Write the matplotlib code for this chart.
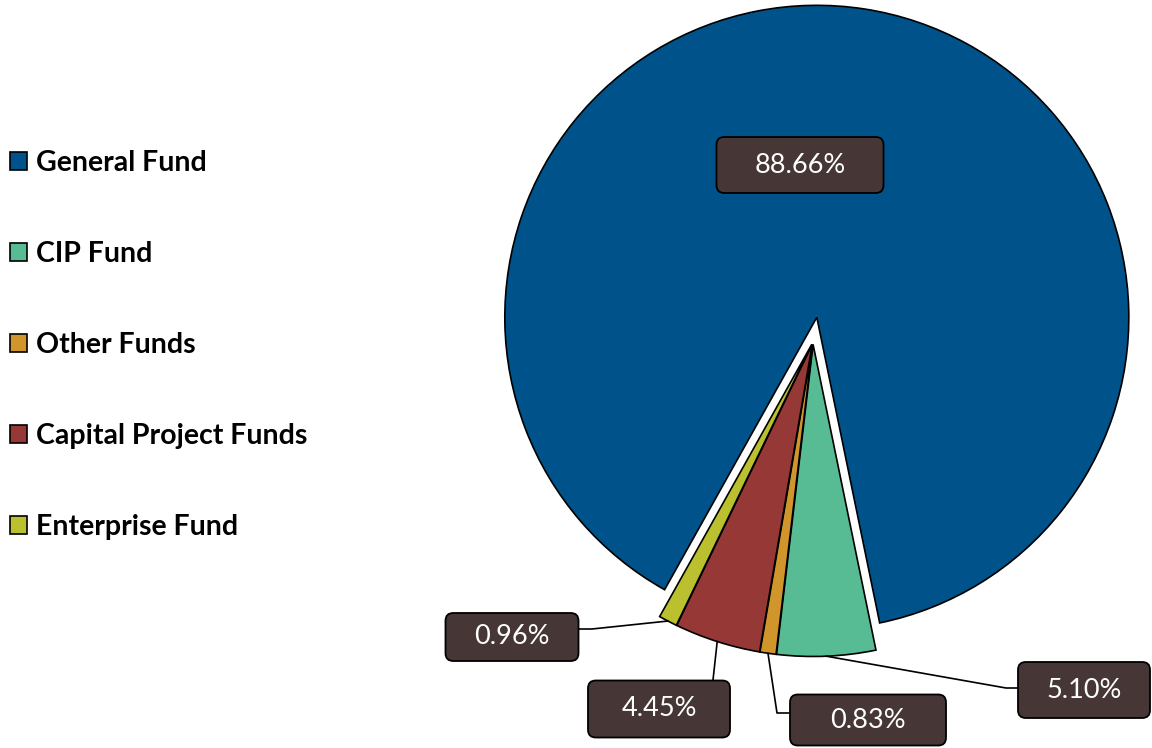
import matplotlib.pyplot as plt
from matplotlib.patches import Patch, FancyBboxPatch
import numpy as np

# Fund shares (percent)
funds = ["General Fund", "CIP Fund", "Other Funds", "Capital Project Funds", "Enterprise Fund"]
shares = [88.66, 5.10, 0.83, 4.45, 0.96]
colors = ["#00538a", "#57bb93", "#d0962c", "#963836", "#bbc12e"]
explode = [0.08, 0.008, 0.008, 0.008, 0.008]

W, H = 1152, 748
R_PX = 312.0          # pie radius in pixels
CX, CY = 813, 342     # pie centre in pixels (from top-left)


def px(x, y):
    """pixel position (top-left origin) -> data coords of the pie axes"""
    return (x - CX) / R_PX, (CY - y) / R_PX


fig = plt.figure(figsize=(W / 100, H / 100), dpi=100)
ax = fig.add_axes([0, 0, 1, 1])

wedges, _ = ax.pie(shares, colors=colors, explode=explode, startangle=240.8,
                   counterclock=False, radius=1,
                   wedgeprops=dict(edgecolor="black", linewidth=1.2))

x0, y0 = px(0, H)
x1, y1 = px(W, 0)
ax.set_xlim(x0, x1)
ax.set_ylim(y0, y1)
ax.set_aspect("auto")
ax.axis("off")

# label boxes: centre (px), size (px), connector elbow + box attach point (px)
box_centre = [(800, 165), (1084, 690), (868, 720), (659, 709), (512, 637)]
box_size = [(167, 56), (132, 56), (156, 51), (142, 57), (133, 48)]
elbows = [None, [(1006, 688), (1018, 688)], [(777, 713), (790, 713)],
          [(713, 680)], [(592, 629), (579, 629)]]

box_color = "#463636"
for i, (w, share) in enumerate(zip(wedges, shares)):
    cx, cy = box_centre[i]
    bw, bh = box_size[i]
    bx, by = px(cx - bw / 2, cy + bh / 2)
    patch = FancyBboxPatch((bx, by), bw / R_PX, bh / R_PX,
                           boxstyle="round,pad=0,rounding_size=0.025",
                           facecolor=box_color, edgecolor="black",
                           linewidth=1.3, zorder=5)
    ax.add_patch(patch)
    tx, ty = px(cx, cy)
    ax.text(tx, ty, f"{share:.2f}%", color="white", fontsize=19.5,
            family="Lato", ha="center", va="center", zorder=6)

    if elbows[i] is None:
        continue
    # leader line starts on the outer arc at the wedge's mid angle
    ang = np.deg2rad((w.theta1 + w.theta2) / 2)
    ox, oy = w.center
    pts = [(ox + np.cos(ang), oy + np.sin(ang))] + [px(*p) for p in elbows[i]]
    xs, ys = zip(*pts)
    ax.plot(xs, ys, color="black", linewidth=1.2, zorder=4)

handles = [Patch(facecolor=c, edgecolor="black", linewidth=1.2) for c in colors]
fig.legend(handles, funds, loc="upper left", bbox_to_anchor=(0.009, 0.800),
           frameon=False, prop=dict(family="Lato", weight="bold", size=20.5),
           handlelength=0.6, handleheight=0.6, handletextpad=0.3,
           labelspacing=2.29, borderpad=0, borderaxespad=0)

fig.savefig("out.png", dpi=100)
